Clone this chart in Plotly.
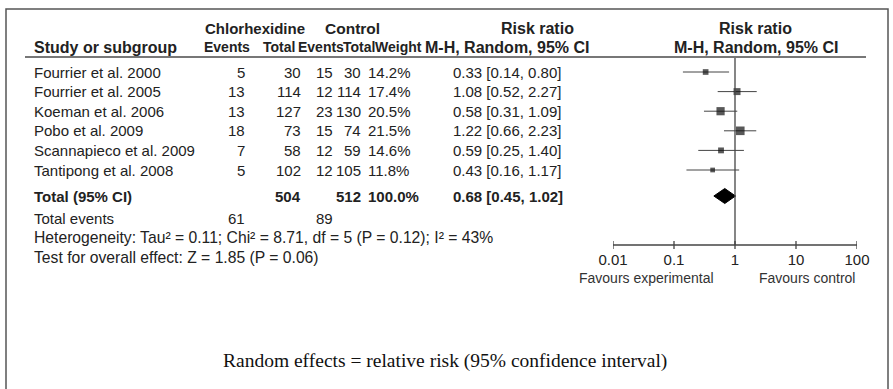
import plotly.graph_objects as go

# ---------------- data ----------------
studies = ["Fourrier et al. 2000", "Fourrier et al. 2005", "Koeman et al. 2006",
           "Pobo et al. 2009", "Scannapieco et al. 2009", "Tantipong et al. 2008"]
chx_events = [5, 13, 13, 18, 7, 5]
chx_total = [30, 114, 127, 73, 58, 102]
ctl_events = [15, 12, 23, 15, 12, 12]
ctl_total = [30, 114, 130, 74, 59, 105]
weights = [14.2, 17.4, 20.5, 21.5, 14.6, 11.8]
rr = [0.33, 1.08, 0.58, 1.22, 0.59, 0.43]
ci_low = [0.14, 0.52, 0.31, 0.66, 0.25, 0.16]
ci_high = [0.80, 2.27, 1.09, 2.23, 1.40, 1.17]

total_label = "Total (95% CI)"
total_chx_n = 504
total_ctl_n = 512
total_weight = 100.0
total_rr = 0.68
total_low = 0.45
total_high = 1.02
total_events_chx = 61
total_events_ctl = 89

heterogeneity_text = "Heterogeneity: Tau² = 0.11; Chi² = 8.71, df = 5 (P = 0.12); I² = 43%"
overall_text = "Test for overall effect: Z = 1.85 (P = 0.06)"
caption_text = "Random effects = relative risk (95% confidence interval)"

axis_ticks = [0.01, 0.1, 1, 10, 100]
axis_tick_labels = ["0.01", "0.1", "1", "10", "100"]

# ---------------- layout constants (pixels) ----------------
W, H = 893, 389
SANS = "Liberation Sans, Arial, sans-serif"
SERIF = "Liberation Serif, Times New Roman, serif"
TXT = "#222222"
LINE = "#444444"
FS = 15
HFS = 14
BFS = 16
FOOT = 15.7

row_y0, row_step = 72, 19.6
row_y = [row_y0 + i * row_step for i in range(len(studies))]
total_y = 196
events_y = 218
het_y = 237
overall_y = 257
axis_y = 245
hdr1_y, hdr2_y, hdr_line_y = 28, 47, 57
caption_y = 361

# column anchors
col_study = 33
col_chx_ev = 246
col_chx_tot = 302
col_ctl_ev = 334
col_ctl_tot = 362
col_w = 367
col_ci = 452

ax_left, ax_right = 613, 857  # pixel positions of 0.01 and 100

fig = go.Figure()

# ---------------- annotations ----------------
ann = []


def txt(x, y, s, anchor="left", bold=False, size=FS, family=SANS, color=TXT):
    ann.append(dict(x=x / W, y=y, xref="paper", yref="y", text=f"<b>{s}</b>" if bold else s,
                    showarrow=False, xanchor=anchor, yanchor="middle", borderpad=0,
                    font=dict(family=family, size=size, color=color)))


# headers
txt(255, hdr1_y, "Chlorhexidine", "center", True)
txt(352, hdr1_y, "Control", "center", True, 15.5)
txt(537, hdr1_y, "Risk ratio", "center", True, BFS)
txt(755, hdr1_y, "Risk ratio", "center", True, BFS)
txt(col_study, hdr2_y, "Study or subgroup", "left", True, BFS)
txt(251, hdr2_y, "Events", "right", True, HFS)
txt(296, hdr2_y, "Total", "right", True, HFS)
txt(297, hdr2_y, "Events", "left", True, HFS)
txt(376, hdr2_y, "Total", "right", True, HFS)
txt(423, hdr2_y, "Weight", "right", True, HFS)
txt(507, hdr2_y, "M-H, Random, 95% CI", "center", True, BFS)
txt(756, hdr2_y, "M-H, Random, 95% CI", "center", True, BFS)

# study rows
for i, s in enumerate(studies):
    y = row_y[i]
    txt(col_study, y, s)
    txt(col_chx_ev, y, str(chx_events[i]), "right")
    txt(col_chx_tot, y, str(chx_total[i]), "right")
    txt(col_ctl_ev, y, str(ctl_events[i]), "right")
    txt(col_ctl_tot, y, str(ctl_total[i]), "right")
    txt(col_w, y, f"{weights[i]:.1f}%", "left")
    txt(col_ci, y, f"{rr[i]:.2f} [{ci_low[i]:.2f}, {ci_high[i]:.2f}]")

# total row
txt(col_study, total_y, total_label, bold=True)
txt(col_chx_tot, total_y, str(total_chx_n), "right", True)
txt(col_ctl_tot, total_y, str(total_ctl_n), "right", True)
txt(col_w, total_y, f"{total_weight:.1f}%", "left", True)
txt(col_ci, total_y, f"{total_rr:.2f} [{total_low:.2f}, {total_high:.2f}]", bold=True)

txt(col_study, events_y, "Total events")
txt(col_chx_ev, events_y, str(total_events_chx), "right")
txt(col_ctl_ev, events_y, str(total_events_ctl), "right")
txt(col_study, het_y, heterogeneity_text, size=FOOT)
txt(col_study, overall_y, overall_text, size=FOOT)

txt(646, 278, "Favours experimental", "center", size=14, color="#333333")
txt(807, 278, "Favours control", "center", size=14, color="#333333")

txt(445, caption_y, caption_text, "center", size=19.5, family=SERIF, color="#111111")

# ---------------- forest plot traces ----------------
for i in range(len(studies)):
    fig.add_trace(go.Scatter(x=[ci_low[i], ci_high[i]], y=[row_y[i], row_y[i]], mode="lines",
                             line=dict(color=LINE, width=1), showlegend=False, hoverinfo="skip"))
fig.add_trace(go.Scatter(x=rr, y=row_y, mode="markers",
                         marker=dict(symbol="square", color="#111111", size=[w * 0.40 for w in weights],
                                     line=dict(width=0)),
                         showlegend=False, hoverinfo="skip"))
dh = 7.5
fig.add_trace(go.Scatter(x=[total_low, total_rr, total_high, total_rr, total_low],
                         y=[total_y, total_y - dh, total_y, total_y + dh, total_y],
                         mode="lines", fill="toself", fillcolor="#000000",
                         line=dict(color="#000000", width=1), showlegend=False, hoverinfo="skip"))
fig.add_trace(go.Scatter(x=[1, 1], y=[hdr_line_y, axis_y], mode="lines",
                         line=dict(color=LINE, width=1.3), showlegend=False, hoverinfo="skip"))
fig.add_trace(go.Scatter(x=[axis_ticks[0], axis_ticks[-1]], y=[axis_y, axis_y], mode="lines",
                         line=dict(color=LINE, width=1.3), showlegend=False, hoverinfo="skip"))
tx, ty = [], []
for t in axis_ticks:
    tx += [t, t, None]
    ty += [axis_y - 4, axis_y + 4, None]
fig.add_trace(go.Scatter(x=tx, y=ty, mode="lines", line=dict(color=LINE, width=1.3),
                         showlegend=False, hoverinfo="skip", connectgaps=False))

# ---------------- shapes ----------------
shapes = [
    dict(type="rect", xref="paper", yref="y", x0=6 / W, x1=888 / W, y0=9, y1=395,
         line=dict(color="#555555", width=1.5)),
    dict(type="line", xref="paper", yref="y", x0=25 / W, x1=866 / W, y0=hdr_line_y, y1=hdr_line_y,
         line=dict(color="#777777", width=2)),
]

fig.update_layout(
    width=W, height=H, margin=dict(l=0, r=0, t=0, b=0, pad=0, autoexpand=False),
    paper_bgcolor="white", plot_bgcolor="rgba(0,0,0,0)",
    annotations=ann, shapes=shapes, showlegend=False,
    xaxis=dict(type="log", domain=[ax_left / W, ax_right / W], range=[-2, 2],
               anchor="free", position=1 - axis_y / H, showgrid=False, zeroline=False,
               showline=False, ticks="", tickvals=axis_ticks, ticktext=axis_tick_labels,
               ticklabelstandoff=4, automargin=False,
               tickfont=dict(family=SANS, size=15, color="#222222"), fixedrange=True),
    yaxis=dict(range=[H, 0], domain=[0, 1], visible=False, fixedrange=True, automargin=False),
)
for tr in fig.data:
    tr.cliponaxis = False

fig.write_html("out.html", config={"displayModeBar": False, "responsive": False},
               post_script="document.body.style.margin='0';document.body.style.overflow='hidden';")
